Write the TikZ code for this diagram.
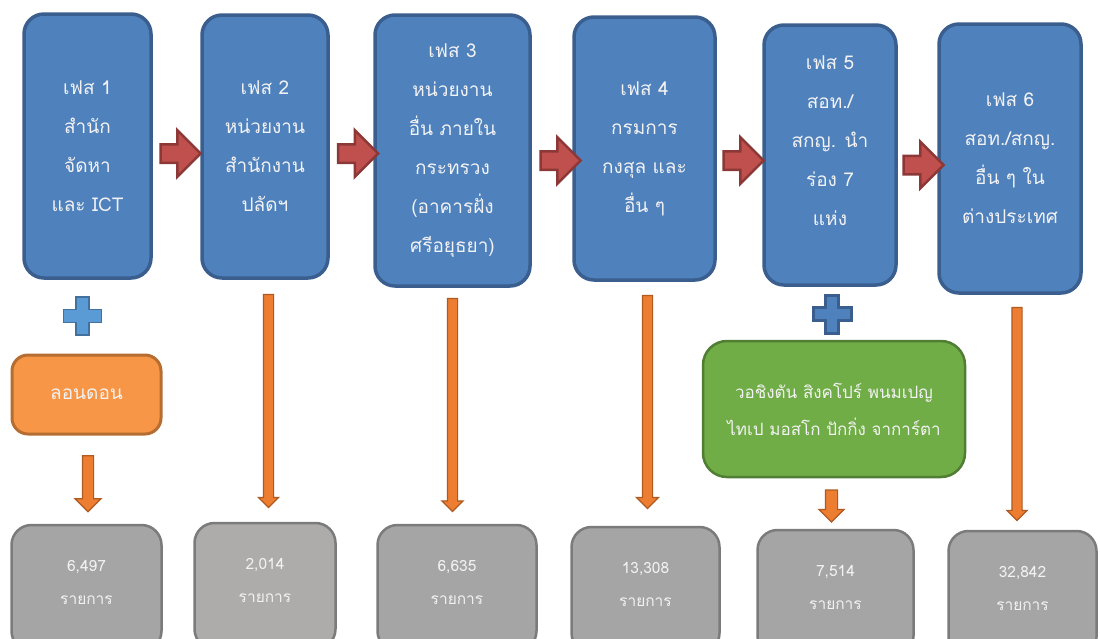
\documentclass[tikz,border=0pt]{standalone}
\usepackage{fontspec}
\usepackage{tikz}
\usetikzlibrary{shapes.arrows}
\newfontfamily\thaifont[Script=Thai]{Loma}

\definecolor{phasefill}{HTML}{4F81BD}
\definecolor{phaseline}{HTML}{3A5F8E}
\definecolor{redfill}{HTML}{C0504D}
\definecolor{redline}{HTML}{8C3836}
\definecolor{orangefill}{HTML}{ED7D31}
\definecolor{orangeline}{HTML}{AE5A21}
\definecolor{londonfill}{HTML}{F79646}
\definecolor{londonline}{HTML}{B66D31}
\definecolor{embfill}{HTML}{70AD47}
\definecolor{embline}{HTML}{507E32}
\definecolor{totalfill}{HTML}{A5A5A5}
\definecolor{totalfillb}{HTML}{AEABAB}
\definecolor{totalline}{HTML}{7B7B7B}
\definecolor{plusfilla}{HTML}{5B9BD5}
\definecolor{pluslinea}{HTML}{41719C}
\definecolor{boxtext}{HTML}{F2F2F2}

\tikzset{
  phase/.style={draw=phaseline, fill=phasefill, line width=3.5pt, rounded corners=20pt,
    text=boxtext, font=\thaifont\fontsize{19}{39}\selectfont, align=center, inner sep=0pt},
  place/.style={line width=3pt, rounded corners=16pt, text=boxtext,
    font=\thaifont\fontsize{19}{37}\selectfont, align=center, inner sep=0pt},
  total/.style={draw=totalline, fill=totalfill, line width=2.5pt, rounded corners=20pt,
    text=boxtext, font=\thaifont\fontsize{15.5}{33}\selectfont, align=center, inner sep=0pt,
    minimum height=126},
  redarrow/.style={single arrow, draw=redline, fill=redfill, line width=2.5pt,
    inner xsep=0pt, inner ysep=8pt, minimum height=40, single arrow head extend=14},
  downarrow/.style={single arrow, rotate=-90, draw=orangeline, fill=orangefill, line width=1.2pt,
    inner xsep=0pt, inner ysep=4.5pt, single arrow head extend=5},
  plusone/.style={fill=plusfilla, draw=pluslinea, line width=1.5pt},
  plustwo/.style={fill=phasefill, draw=phaseline, line width=3pt},
  pics/plusmark/.style={code={
    \draw[#1] (-6.5,-19) -- (6.5,-19) -- (6.5,-6.5) -- (19,-6.5) -- (19,6.5) -- (6.5,6.5)
      -- (6.5,19) -- (-6.5,19) -- (-6.5,6.5) -- (-19,6.5) -- (-19,-6.5) -- (-6.5,-6.5) -- cycle;
  }}
}

\begin{document}
\begin{tikzpicture}[x=1pt,y=-1pt]
  \useasboundingbox (0,0) rectangle (1100,638);
  \clip (0,0) rectangle (1100,638);

  % phases
  \node[phase, minimum width=127, minimum height=264] (p1) at (87.5,146) {เฟส 1\\สำนัก\\จัดหา\\และ ICT};
  \node[phase, minimum width=126, minimum height=263] (p2) at (265,146.5) {เฟส 2\\หน่วยงาน\\สำนักงาน\\ปลัดฯ};
  \node[phase, minimum width=155, minimum height=271] (p3) at (452.5,150.5) {เฟส 3\\หน่วยงาน\\อื่น ภายใน\\กระทรวง\\(อาคารฝั่ง\\ศรีอยุธยา)};
  \node[phase, minimum width=141, minimum height=263] (p4) at (644.5,148.5) {เฟส 4\\กรมการ\\กงสุล และ\\อื่น ๆ};
  \node[phase, minimum width=132, minimum height=260] (p5) at (830,155) {เฟส 5\\สอท./\\สกญ. นำ\\ร่อง 7\\แห่ง\\[-10pt]\mbox{}};
  \node[phase, minimum width=142, minimum height=269] (p6) at (1010,158.5) {เฟส 6\\สอท./สกญ.\\อื่น ๆ ใน\\ต่างประเทศ};

  \node[redarrow] (a12) at (176,153.5) {};
  \node[redarrow] (a23) at (353.5,153.5) {};
  \node[redarrow] (a34) at (556,160.5) {};
  \node[redarrow] (a45) at (739,160.5) {};
  \node[redarrow] (a56) at (919,165) {};

  % extra places
  \pic at (82.5,316) {plusmark=plusone};
  \pic at (832,314) {plusmark=plustwo};
  \node[place, draw=londonline, fill=londonfill, minimum width=149, minimum height=79] (lon) at (86.5,394.5) {ลอนดอน};
  \node[place, draw=embline, fill=embfill, line width=2.5pt, rounded corners=24pt, minimum width=262, minimum height=136,
    font=\thaifont\fontsize{17}{37}\selectfont] (emb) at (834,409) {วอชิงตัน สิงคโปร์ พนมเปญ\\ไทเป มอสโก ปักกิ่ง จาการ์ตา};

  % down arrows
  \node[downarrow, minimum height=56, inner ysep=5pt, single arrow head extend=7.5] (o1) at (88,481) {};
  \node[downarrow, minimum height=213] (o2) at (268.5,398.5) {};
  \node[downarrow, minimum height=213, single arrow head extend=5.5] (o3) at (452.5,402.5) {};
  \node[downarrow, minimum height=213, single arrow head extend=6] (o4) at (647.5,399.5) {};
  \node[downarrow, minimum height=32, inner ysep=5.5pt, single arrow head extend=6.5] (o5) at (831.5,503) {};
  \node[downarrow, minimum height=213] (o6) at (1017,411.5) {};

  % totals
  \node[total, minimum width=150] (g1) at (86.5,588) {6,497\\รายการ\\[-21pt]\mbox{}};
  \node[total, fill=totalfillb, minimum width=141] (g2) at (265,586) {2,014\\รายการ\\[-21pt]\mbox{}};
  \node[total, minimum width=159] (g3) at (457,588) {6,635\\รายการ\\[-21pt]\mbox{}};
  \node[total, minimum width=148] (g4) at (645.5,590) {13,308\\รายการ\\[-21pt]\mbox{}};
  \node[total, minimum width=156] (g5) at (835.5,593) {7,514\\รายการ\\[-21pt]\mbox{}};
  \node[total, minimum width=148] (g6) at (1022.5,594) {32,842\\รายการ\\[-21pt]\mbox{}};
\end{tikzpicture}
\end{document}
